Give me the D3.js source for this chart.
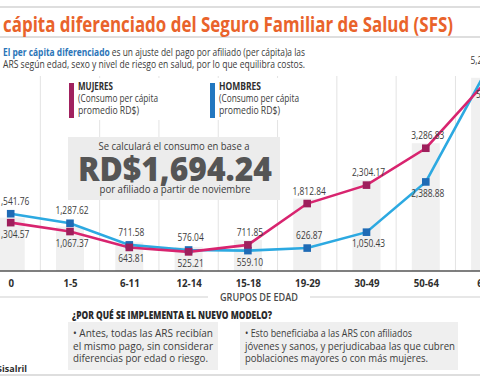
<!DOCTYPE html>
<html><head><meta charset="utf-8">
<script src="https://cdn.jsdelivr.net/npm/d3@7"></script>
<style>
html,body{margin:0;padding:0;background:#fff;}
svg{display:block;font-family:"Open Sans",sans-serif;}
</style></head>
<body>
<svg id="c" width="480" height="384"></svg>
<script>
const categories = ["0","1-5","6-11","12-14","15-18","19-29","30-49","50-64","65+"];
const mujeres = [1304.57,1067.37,643.81,525.21,711.85,1812.84,2304.17,3286.83,5031.26];
const hombres = [1541.76,1287.62,711.58,576.04,559.10,626.87,1050.43,2388.88,5295.68];
const mujeresLabelPos = ["below","below","below","below","above","above","above","above","belowright"];
const hombresLabelPos = ["above","above","above","above","below","above","below","below","above"];
const seriesNames = ["MUJERES","HOMBRES"];
const legendSub = ["(Consumo per cápita","promedio RD$)"];
const promedio = "RD$1,694.24";

const svg = d3.select("#c");
const W = 480, H = 384;
const gray = "#3a3a3a";
const cM = {line:"#d8246f", mark:"#9e1f5c"};
const cH = {line:"#2ca9e1", mark:"#1f6bb5"};

const x = d3.scalePoint().domain(categories).range([10.7, 10.7 + 59.3*8]);
const y = d3.scaleLinear().domain([0, 6000]).range([271.6, 46.4]);
const fmt = d3.format(",.2f");
const step = x.step();

function txt(g, s, px, py, o){
  const t = g.append("text").attr("x",px).attr("y",py).text(s)
    .attr("font-size",o.size||10).attr("fill",o.fill||gray)
    .attr("font-weight",o.weight||400).attr("text-anchor",o.anchor||"start");
  if(o.len){t.attr("textLength",o.len).attr("lengthAdjust","spacingAndGlyphs");}
  return t;
}
function condense(sel, f){
  sel.each(function(){const w=this.getComputedTextLength();d3.select(this).attr("textLength",w*f).attr("lengthAdjust","spacingAndGlyphs");});
}

// rules
svg.append("line").attr("x1",0).attr("x2",W).attr("y1",7).attr("y2",7).attr("stroke","#bdbdbd");
svg.append("line").attr("x1",0).attr("x2",W).attr("y1",37).attr("y2",37).attr("stroke","#bdbdbd");
svg.append("line").attr("x1",0).attr("x2",W).attr("y1",375).attr("y2",375).attr("stroke","#bdbdbd").attr("stroke-width",1.2);

// title
txt(svg,"cápita diferenciado del Seguro Familiar de Salud (SFS)",3,32,{size:21,weight:700,fill:"#e9632b",len:450});
// subtitle
const s1 = svg.append("text").attr("x",3).attr("y",56).attr("font-size",10).attr("fill",gray)
  .attr("textLength",302).attr("lengthAdjust","spacingAndGlyphs");
s1.append("tspan").attr("font-weight",700).attr("fill","#2a74b8").text("El per cápita diferenciado");
s1.append("tspan").text(" es un ajuste del pago por afiliado (per cápita)a las");
txt(svg,"ARS según edad, sexo y nivel de riesgo en salud, por lo que equilibra costos.",3,67.5,{size:10,len:302});

// background columns
const chart = svg.append("g");
chart.selectAll("rect.col").data(categories).join("rect").attr("class","col")
  .attr("x",d=>x(d)-14).attr("width",28)
  .attr("y",(d,i)=>y(mujeres[i])-5)
  .attr("height",(d,i)=>271-(y(mujeres[i])-5))
  .attr("fill","#f0f0f0");
// separators
chart.selectAll("line.sep").data(categories.slice(0,-1)).join("line").attr("class","sep")
  .attr("x1",d=>x(d)+step/2).attr("x2",d=>x(d)+step/2).attr("y1",76).attr("y2",271)
  .attr("stroke","#e3e3e3").attr("stroke-width",1);

// legend
const legX = [69, 210];
[cM.mark, cH.mark].forEach((col,i)=>{
  const g = svg.append("g");
  g.append("rect").attr("x",legX[i]).attr("y",78).attr("width",100).attr("height",42).attr("fill","#fff");
  g.append("rect").attr("x",legX[i]).attr("y",83).attr("width",5).attr("height",35).attr("fill",i?"#2277c0":"#a0215f");
  txt(g,seriesNames[i],legX[i]+9,90,{size:10,weight:700,fill:"#2e2e2e",len:i?42:35});
  txt(g,legendSub[0],legX[i]+9,102,{size:10,fill:gray,len:80});
  txt(g,legendSub[1],legX[i]+9,113.5,{size:10,fill:gray,len:61});
});

// callout box
svg.append("rect").attr("x",68).attr("y",137).attr("width",212).attr("height",63).attr("fill","#ececec");
txt(svg,"Se calculará el consumo en base a",174,149.5,{size:11,anchor:"middle",fill:"#3c3c3c",len:151});
txt(svg,promedio,175,180.5,{size:33,weight:800,anchor:"middle",fill:"#555",len:194});
txt(svg,"por afiliado a partir de noviembre",175,192.5,{size:11,anchor:"middle",fill:"#3c3c3c",len:151});

// lines
const line = d3.line().x((d,i)=>x(categories[i])).y(d=>y(d));
const lines = svg.append("g");
lines.append("path").datum(hombres).attr("d",line).attr("fill","none").attr("stroke",cH.line).attr("stroke-width",2.6);
lines.append("path").datum(mujeres).attr("d",line).attr("fill","none").attr("stroke",cM.line).attr("stroke-width",2.6);
lines.selectAll("rect.mh").data(hombres).join("rect").attr("class","mh")
  .attr("x",(d,i)=>x(categories[i])-3.8).attr("y",d=>y(d)-3.8).attr("width",7.6).attr("height",7.6).attr("fill",cH.mark);
lines.selectAll("rect.mm").data(mujeres).join("rect").attr("class","mm")
  .attr("x",(d,i)=>x(categories[i])-3.8).attr("y",d=>y(d)-3.8).attr("width",7.6).attr("height",7.6).attr("fill",cM.mark);

// value labels
function labels(vals,pos){
  const g = svg.append("g");
  const t = g.selectAll("text").data(vals).join("text")
    .attr("x",(d,i)=>{const p=x(categories[i]); return pos[i]==="belowright"? p-9 : p+2;})
    .attr("y",(d,i)=>pos[i]==="above"? y(d)-9 : y(d)+15)
    .attr("text-anchor",(d,i)=>pos[i]==="belowright"?"start":"middle")
    .attr("font-size",10).attr("fill","#3c3c3c").text(d=>fmt(d));
  condense(t,0.84);
}
labels(hombres,hombresLabelPos);
labels(mujeres,mujeresLabelPos);

// axis
svg.append("line").attr("x1",0).attr("x2",W).attr("y1",271).attr("y2",271).attr("stroke","#555").attr("stroke-width",1.5);
const ax = svg.append("g").attr("transform","translate(0,271)")
  .call(d3.axisBottom(x).tickSize(0).tickPadding(0));
ax.select(".domain").remove();
ax.selectAll("text").attr("y",16).attr("dy",0).attr("font-family","Open Sans").attr("font-size",10.5)
  .attr("font-weight",700).attr("fill","#2e2e2e");
condense(ax.selectAll("text"),0.92);

// x title
svg.append("line").attr("x1",0).attr("x2",208).attr("y1",297).attr("y2",297).attr("stroke","#cfcfcf");
svg.append("line").attr("x1",310).attr("x2",W).attr("y1",297).attr("y2",297).attr("stroke","#cfcfcf");
txt(svg,"GRUPOS DE EDAD",259,300.5,{size:10,weight:600,anchor:"middle",fill:"#4a4a4a",len:78});

// bottom
txt(svg,"¿POR QUÉ SE IMPLEMENTA EL NUEVO MODELO?",72,318.5,{size:10.5,weight:800,fill:"#2a2a2a",len:200});
svg.append("rect").attr("x",68).attr("y",322).attr("width",150).attr("height",48).attr("fill","#efefef");
svg.append("rect").attr("x",240).attr("y",322).attr("width",218).attr("height",48).attr("fill","#efefef");
const b1 = ["• Antes, todas las ARS recibían","el mismo pago, sin considerar","diferencias por edad o riesgo."];
const b1w = [140,140,135];
const b2 = ["• Esto beneficiaba a las ARS con afiliados","jóvenes y sanos, y perjudicabaa las que cubren","poblaciones mayores o con más mujeres."];
const b2w = [167,210,183];
b1.forEach((s,i)=>txt(svg,s,73,337+i*12.6,{size:10.5,fill:"#3c3c3c",len:b1w[i]}));
b2.forEach((s,i)=>txt(svg,s,245,337+i*12.6,{size:10.5,fill:"#3c3c3c",len:b2w[i]}));
txt(svg,"Fuente: Sisalril",27,372,{size:9,weight:700,anchor:"end",fill:"#2e2e2e"});
</script>
</body></html>
